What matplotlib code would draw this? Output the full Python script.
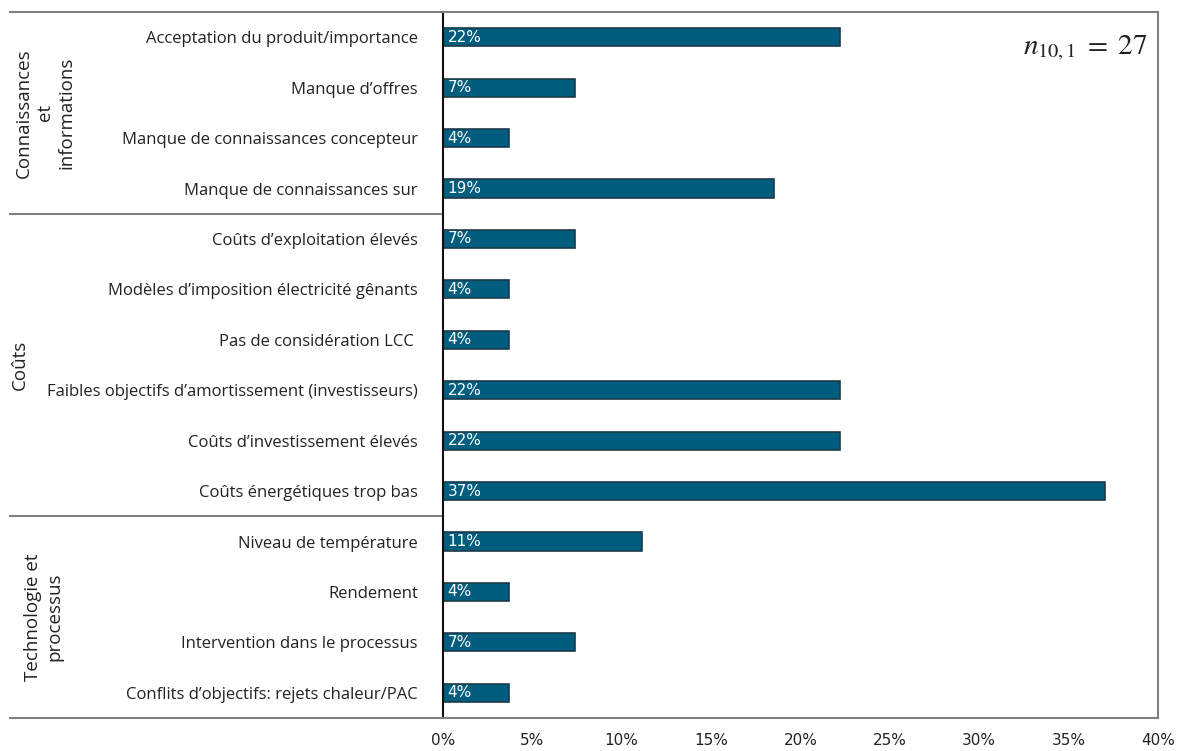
import numpy as np
import matplotlib.pyplot as plt
from matplotlib.ticker import PercentFormatter

plt.rcParams['font.family'] = ['Open Sans', 'DejaVu Sans']
plt.rcParams['mathtext.fontset'] = 'stix'

# data (from top to bottom), share of 27 respondents
labels = [
    "Acceptation du produit/importance",
    "Manque d\u2019offres",
    "Manque de connaissances concepteur",
    "Manque de connaissances sur",
    "Co\u00fbts d\u2019exploitation \u00e9lev\u00e9s",
    "Mod\u00e8les d\u2019imposition \u00e9lectricit\u00e9 g\u00eanants",
    "Pas de consid\u00e9ration LCC ",
    "Faibles objectifs d\u2019amortissement (investisseurs)",
    "Co\u00fbts d\u2019investissement \u00e9lev\u00e9s",
    "Co\u00fbts \u00e9nerg\u00e9tiques trop bas",
    "Niveau de temp\u00e9rature",
    "Rendement",
    "Intervention dans le processus",
    "Conflits d\u2019objectifs: rejets chaleur/PAC",
]
counts = [6, 2, 1, 5, 2, 1, 1, 6, 6, 10, 3, 1, 2, 1]
n_total = 27
values = [100 * c / n_total for c in counts]

groups = ["Connaissances\net\ninformations", "Co\u00fbts", "Technologie et\nprocessus"]
group_sizes = [4, 6, 4]

bar_color = '#005d7e'
edge_color = '#1d3b4a'

fig = plt.figure(figsize=(11.81, 7.51), dpi=100)
ax_l, ax_r = 0.3751, 0.9805
ax = fig.add_axes([ax_l, 0.0439, ax_r - ax_l, 0.984 - 0.0439])

y = np.arange(len(labels))
bars = ax.barh(y, values, height=0.36, color=bar_color, edgecolor=edge_color, linewidth=1.2)
ax.set_ylim(len(labels) - 0.5, -0.5)
ax.set_xlim(0, 40)
ax.set_xticks(np.arange(0, 41, 5))
ax.xaxis.set_major_formatter(PercentFormatter(decimals=0))
ax.tick_params(axis='x', length=0, pad=11, labelsize=11, labelcolor='#222222')
for t in ax.get_xticklabels():
    t.set_family(['DejaVu Sans Condensed', 'DejaVu Sans'])

ax.set_yticks(y)
ax.set_yticklabels(labels, fontsize=12, color='#222222')
ax.tick_params(axis='y', length=0, pad=18)

for b, v in zip(bars, values):
    ax.text(0.25, b.get_y() + b.get_height() / 2, f"{v:.0f}%", color='white',
            va='center', ha='left', fontsize=11,
            family=['DejaVu Sans Condensed', 'DejaVu Sans'])

for side in ['top', 'right', 'bottom']:
    ax.spines[side].set_color('#808080')
    ax.spines[side].set_linewidth(1.5)
ax.spines['left'].set_color('#111111')
ax.spines['left'].set_linewidth(1.5)

# extended horizontal frame lines and group separators
xa = (10 / 1181 - ax_l) / (ax_r - ax_l)
edges = np.concatenate([[0], np.cumsum(group_sizes)]) - 0.5
for e in edges:
    ax.plot([xa, 0], [e, e], transform=ax.get_yaxis_transform(), color='#808080',
            lw=1.5, clip_on=False)

group_x = [0.038, 0.017, 0.037]
for g, s0, s1, gx in zip(groups, edges[:-1], edges[1:], group_x):
    yc = (s0 + s1) / 2
    ax.annotate(g, xy=(gx, yc), xycoords=('figure fraction', 'data'), rotation=90,
                ha='center', va='center', fontsize=13.5, color='#222222',
                multialignment='center', linespacing=1.25)

ax.text(0.985, 0.97, r'$n_{10,1}\;=\;27$', transform=ax.transAxes, ha='right', va='top',
        fontsize=21, color='#222222')

fig.savefig('out.png', dpi=100)
